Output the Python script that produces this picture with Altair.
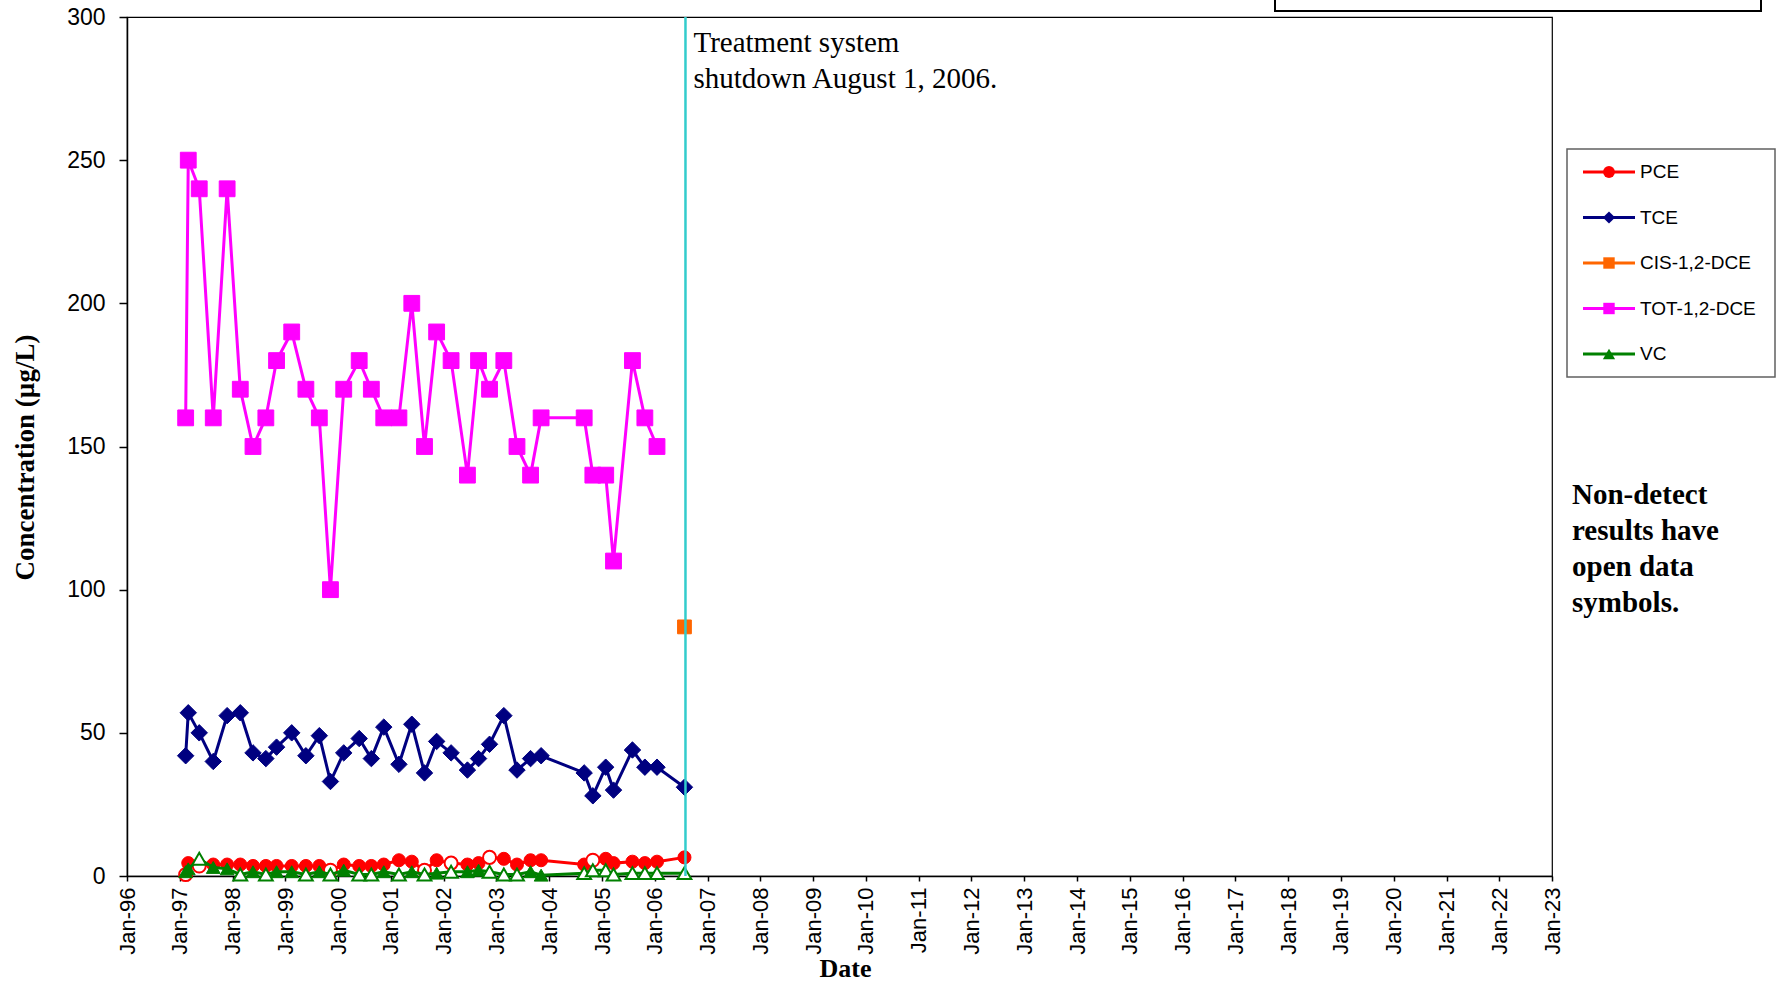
import altair as alt
import pandas as pd

# Quarterly groundwater sampling events
SAMPLE_DATES = [
    "1997-02-10", "1997-02-28", "1997-05-15", "1997-08-20", "1997-11-24",
    "1998-02-23", "1998-05-22", "1998-08-19", "1998-11-01",
    "1999-02-14", "1999-05-23", "1999-08-24", "1999-11-09",
    "2000-02-09", "2000-05-26", "2000-08-18", "2000-11-12",
    "2001-02-25", "2001-05-25", "2001-08-21", "2001-11-13",
    "2002-02-21", "2002-06-14", "2002-08-30", "2002-11-14",
    "2003-02-21", "2003-05-23", "2003-08-25", "2003-11-06",
    "2004-08-30", "2004-10-29",
    "2005-01-26", "2005-03-21", "2005-07-30", "2005-10-24",
    "2006-01-16", "2006-07-25",
]

# Concentrations (ug/L); *_DETECTED False marks a non-detect result
PCE = [0.5, 4.5, 3.5, 4, 4, 4, 3.5, 3.5, 3.5, 3.5, 3.5, 3.5, 2, 4, 3.5, 3.5, 4,
       5.5, 5, 2, 5.5, 4.5, 4, 4.5, 6.5, 6, 4, 5.5, 5.5, 4, 5.5, 6, 4.5, 5, 4.5, 5, 6.5]
PCE_DETECTED = [False, True, False, True, True, True, True, True, True, True, True, True,
                False, True, True, True, True, True, True, False, True, False, True, True,
                False, True, True, True, True, True, False, True, True, True, True, True, True]

TCE = [42, 57, 50, 40, 56, 57, 43, 41, 45, 50, 42, 49, 33, 43, 48, 41, 52, 39, 53, 36,
       47, 43, 37, 41, 46, 56, 37, 41, 42, 36, 28, 38, 30, 44, 38, 38, 31]

TOT_DCE = [160, 250, 240, 160, 240, 170, 150, 160, 180, 190, 170, 160, 100, 170, 180, 170,
           160, 160, 200, 150, 190, 180, 140, 180, 170, 180, 150, 140, 160, 160, 140, 140,
           110, 180, 160, 150]

CIS_DCE_DATES = ["2006-07-25"]
CIS_DCE = [87]

VC = [1.5, 2.5, 6, 3, 2.5, 0.5, 1.5, 0.5, 1.5, 1.5, 0.5, 1.5, 0.5, 2, 0.5, 0.5, 1.5,
      0.5, 1.5, 0.5, 1, 1.5, 1.5, 2, 1.5, 0.5, 0.5, 1.5, 0.3, 1, 2, 2, 0.5, 1, 1, 1, 1]
VC_DETECTED = [True, True, False, True, True, False, True, False, True, True, False, True,
               False, True, False, False, True, False, True, False, True, False, True, True,
               False, False, False, True, True, False, False, False, False, False, False,
               False, False]

SHUTDOWN_DATE = "2006-08-01"
SHUTDOWN_TEXT = ["Treatment system", "shutdown August 1, 2006."]
NOTE_TEXT = ["Non-detect", "results have", "open data", "symbols."]

TICK_YEARS = list(range(1996, 2024))
Y_TICKS = [0, 50, 100, 150, 200, 250, 300]

SERIES = ["PCE", "TCE", "CIS-1,2-DCE", "TOT-1,2-DCE", "VC"]
COLORS = {"PCE": "#FF0000", "TCE": "#000080", "CIS-1,2-DCE": "#FF6600",
          "TOT-1,2-DCE": "#FF00FF", "VC": "#008000"}
SHAPES = {"PCE": "circle", "TCE": "diamond", "CIS-1,2-DCE": "square",
          "TOT-1,2-DCE": "square", "VC": "triangle-up"}
SIZES = {"PCE": 170, "TCE": 270, "CIS-1,2-DCE": 190, "TOT-1,2-DCE": 250, "VC": 190}
LEGEND_SIZES = {"PCE": 140, "TCE": 150, "CIS-1,2-DCE": 130, "TOT-1,2-DCE": 130, "VC": 150}

W, H = 1425, 859
SERIF = "Liberation Serif"
SANS = "Liberation Sans"


def x_enc():
    return alt.X(
        "date:T",
        scale=alt.Scale(domain=[alt.DateTime(year=1996, month=1, date=1),
                                alt.DateTime(year=2023, month=1, date=1)]),
        axis=alt.Axis(
            values=[alt.DateTime(year=y, month=1, date=1) for y in TICK_YEARS],
            format="%b-%y", labelAngle=270, labelAlign="right", labelBaseline="middle",
            labelFont=SANS, labelFontSize=22, labelColor="#000", labelPadding=6,
            labelFlush=False, labelOverlap=False,
            tickSize=5, tickColor="#000", tickWidth=1.5,
            domainColor="#000", domainWidth=1.5, grid=False,
            title="Date", titleFont=SERIF, titleFontSize=26, titleFontWeight="bold",
            titleColor="#000", titleX=718, titleY=92, titleBaseline="middle",
            titleAlign="center",
        ),
    )


def y_enc():
    return alt.Y(
        "value:Q",
        scale=alt.Scale(domain=[0, 300], nice=False),
        axis=alt.Axis(
            values=Y_TICKS, labelFont=SANS, labelFontSize=23, labelColor="#000",
            labelPadding=14, tickSize=8, tickColor="#000", tickWidth=1.5,
            domainColor="#000", domainWidth=1.5, grid=False,
            title="Concentration (µg/L)", titleFont=SERIF, titleFontSize=27,
            titleFontWeight="bold", titleColor="#000", titleX=-102, titleY=440,
            titleAngle=270, titleAlign="center", titleBaseline="middle",
        ),
    )


def series_layers(name, dates, values, detected=None, with_line=True):
    if detected is None:
        detected = [True] * len(values)
    df = pd.DataFrame({"date": pd.to_datetime(dates[:len(values)]),
                       "value": values, "detected": detected})
    color = COLORS[name]
    base = alt.Chart(df).encode(x=x_enc(), y=y_enc())
    layers = []
    if with_line:
        layers.append(base.mark_line(color=color, strokeWidth=3))
    layers.append(
        base.transform_filter("datum.detected").mark_point(
            shape=SHAPES[name], size=SIZES[name], filled=True, color=color,
            stroke=color, strokeWidth=1, opacity=1)
    )
    layers.append(
        base.transform_filter("!datum.detected").mark_point(
            shape=SHAPES[name], size=SIZES[name], filled=True, fill="white",
            stroke=color, strokeWidth=2, opacity=1)
    )
    return layers


one_row = pd.DataFrame({"k": [0]})

# Boxes outside the plotting area
top_box = alt.Chart(one_row).mark_rect(fill="white", stroke="#000", strokeWidth=2).encode(
    x=alt.value(1148), x2=alt.value(1634), y=alt.value(-40), y2=alt.value(-6))
legend_box = alt.Chart(one_row).mark_rect(fill="white", stroke="#606060", strokeWidth=1.5).encode(
    x=alt.value(1440), x2=alt.value(1648), y=alt.value(132), y2=alt.value(360))

data_layers = []
data_layers += series_layers("PCE", SAMPLE_DATES, PCE, PCE_DETECTED)
data_layers += series_layers("TCE", SAMPLE_DATES, TCE)
data_layers += series_layers("CIS-1,2-DCE", CIS_DCE_DATES, CIS_DCE, with_line=False)
data_layers += series_layers("TOT-1,2-DCE", SAMPLE_DATES, TOT_DCE)
data_layers += series_layers("VC", SAMPLE_DATES, VC, VC_DETECTED)

shutdown_df = pd.DataFrame({"date": pd.to_datetime([SHUTDOWN_DATE])})
shutdown_rule = alt.Chart(shutdown_df).mark_rule(color="#33CCCC", strokeWidth=2.5).encode(
    x=x_enc(), y=alt.value(0), y2=alt.value(H))
shutdown_label = alt.Chart(shutdown_df).mark_text(
    text=SHUTDOWN_TEXT, align="left", baseline="alphabetic", dx=8, font=SERIF,
    fontSize=29, lineHeight=36, color="#000").encode(x=x_enc(), y=alt.value(35))

note_label = alt.Chart(one_row).mark_text(
    text=NOTE_TEXT, align="left", baseline="alphabetic", font=SERIF, fontSize=29,
    fontWeight="bold", lineHeight=36, color="#000").encode(x=alt.value(1445), y=alt.value(487))

# Legend: line + marker + label per series
legend_layers = []
LEGEND_TOP, LEGEND_STEP = 155, 45.5
for i, name in enumerate(SERIES):
    ypos = LEGEND_TOP + i * LEGEND_STEP
    row = alt.Chart(pd.DataFrame({"label": [name]}))
    legend_layers.append(row.mark_rule(color=COLORS[name], strokeWidth=3).encode(
        x=alt.value(1456), x2=alt.value(1508), y=alt.value(ypos)))
    legend_layers.append(row.mark_point(
        shape=SHAPES[name], size=LEGEND_SIZES[name], filled=True, color=COLORS[name],
        opacity=1).encode(x=alt.value(1482), y=alt.value(ypos)))
    legend_layers.append(row.mark_text(
        align="left", baseline="middle", font=SANS, fontSize=19, color="#000").encode(
        x=alt.value(1513), y=alt.value(ypos), text="label:N"))

chart = alt.layer(
    top_box, legend_box, *data_layers, shutdown_rule, shutdown_label, note_label,
    *legend_layers,
).properties(
    width=W, height=H,
    autosize=alt.AutoSizeParams(type="none"),
    padding={"left": 127, "top": 17, "right": 224, "bottom": 108},
    background="white",
).configure_view(stroke="#000", strokeWidth=1.2)

chart.save("out.html", embed_options={"renderer": "svg", "actions": False})
